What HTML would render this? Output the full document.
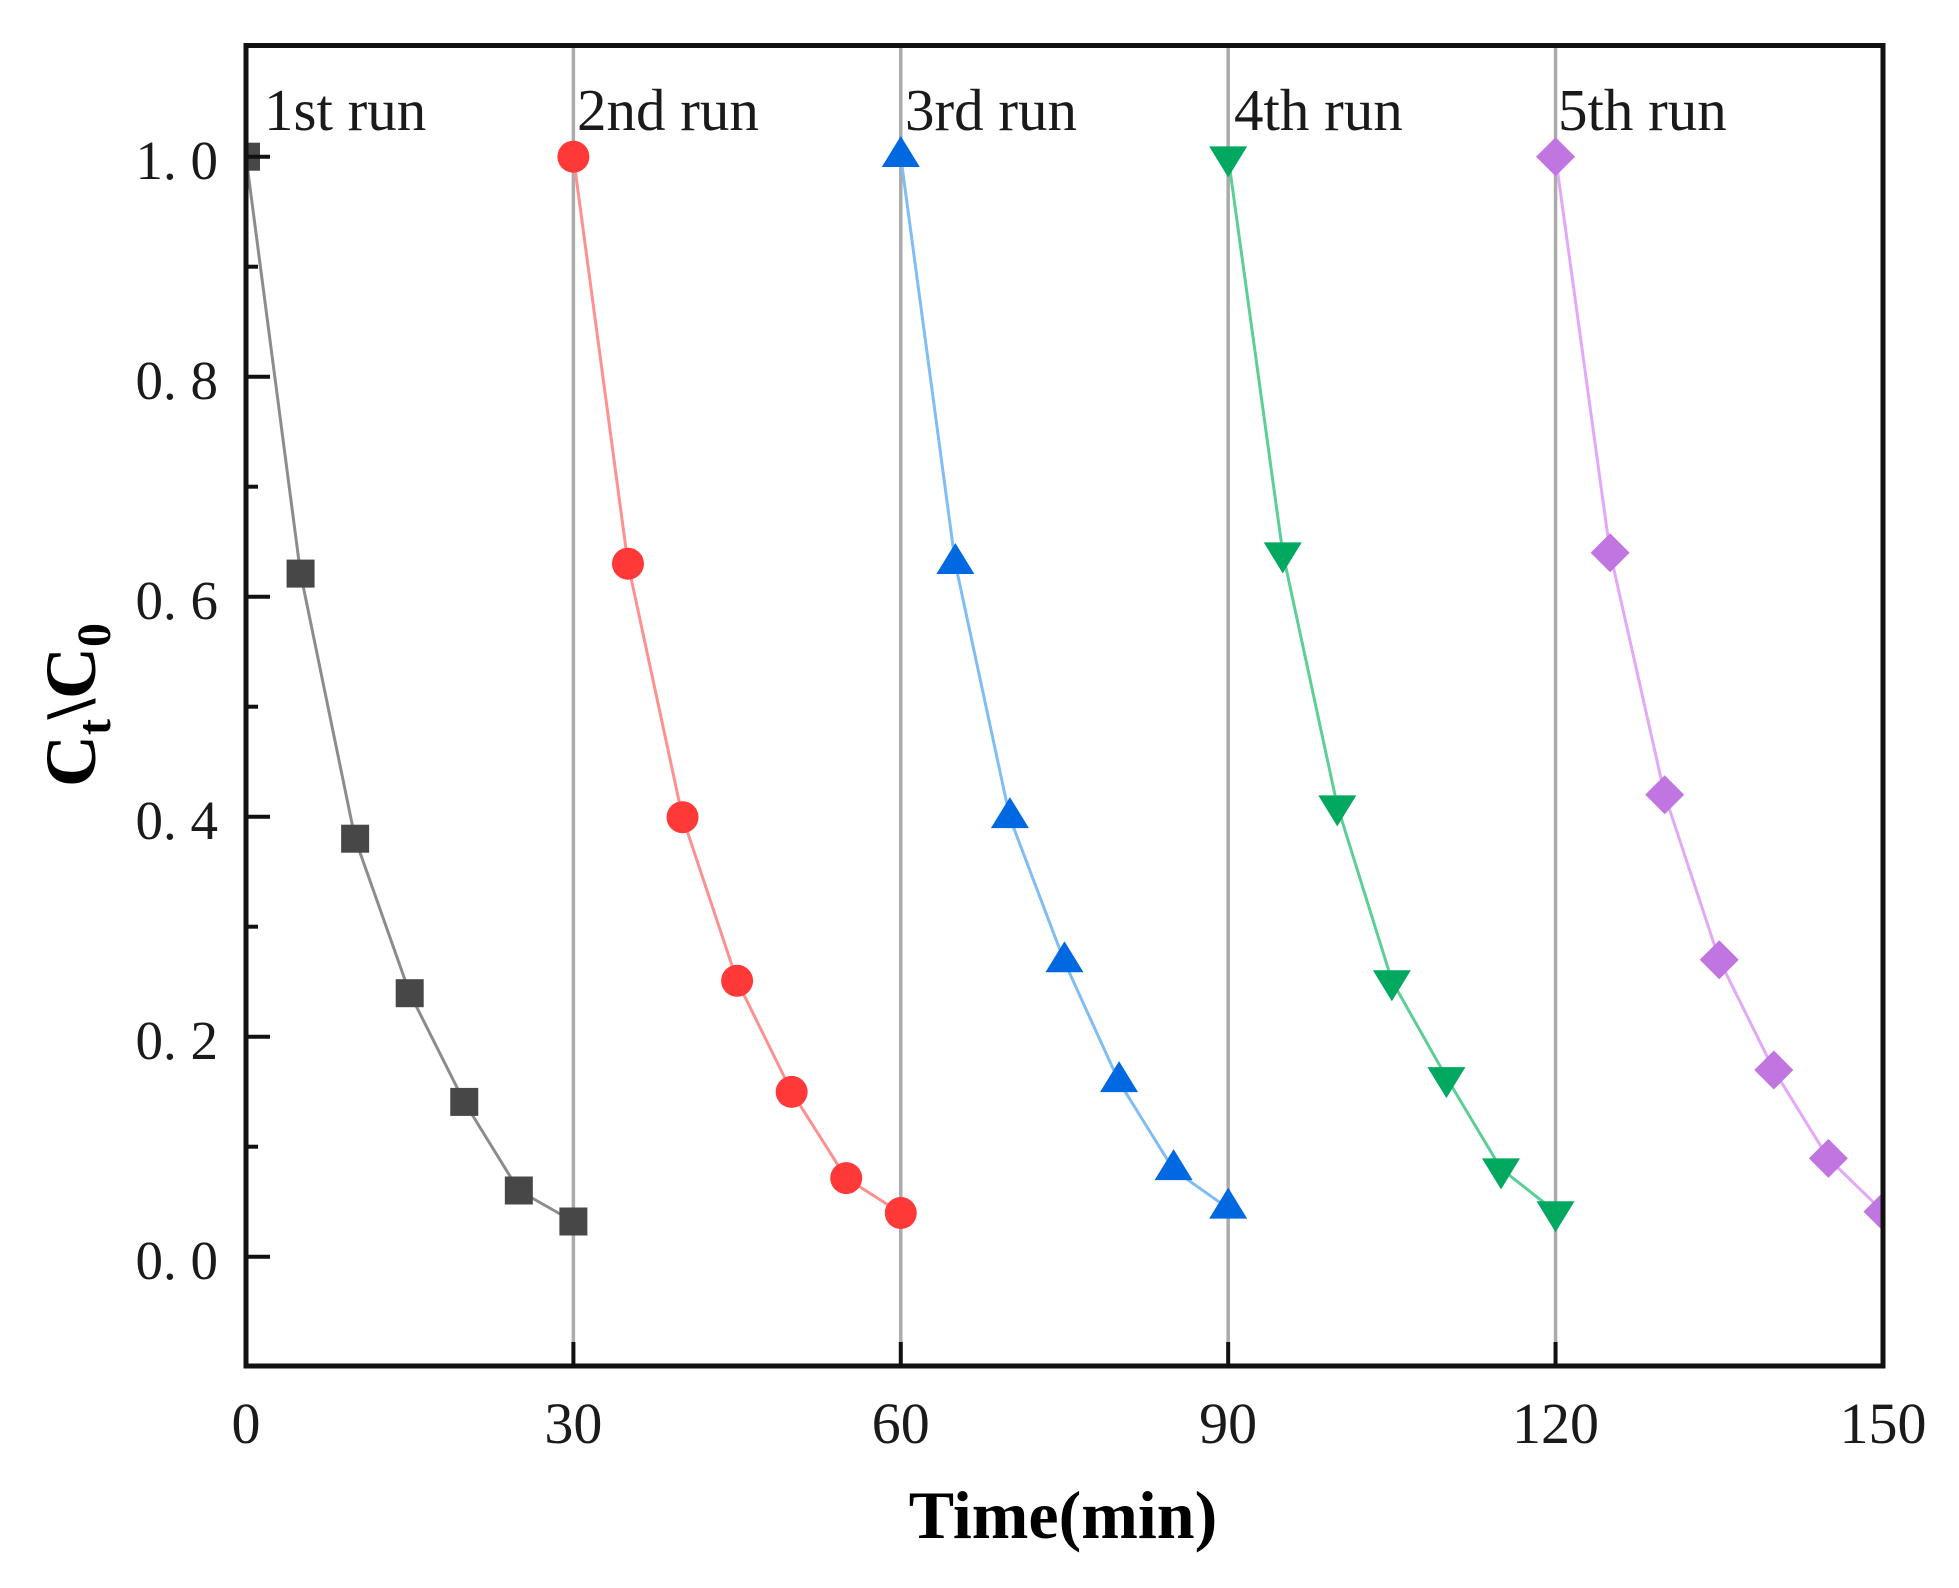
<!DOCTYPE html>
<html>
<head>
<meta charset="utf-8">
<style>
html,body{margin:0;padding:0;background:#fff;}
svg{display:block;}
</style>
</head>
<body>
<svg width="1959" height="1588" viewBox="0 0 1959 1588" xmlns="http://www.w3.org/2000/svg">
<defs>
  <clipPath id="plot"><rect x="246" y="45.5" width="1637" height="1320.5"/></clipPath>
  <rect id="sq" x="-14" y="-14" width="28" height="28" fill="#474747"/>
  <circle id="ci" r="16" fill="#ff3838"/>
  <polygon id="tu" points="0,-20.7 19,10.3 -19,10.3" fill="#0068e0"/>
  <polygon id="td" points="0,20.7 19,-10.3 -19,-10.3" fill="#00a860"/>
  <polygon id="di" points="0,-19.5 19.5,0 0,19.5 -19.5,0" fill="#c175e0"/>
</defs>

<!-- vertical separators -->
<g stroke="#ababab" stroke-width="3.5">
  <line x1="573.39" y1="46" x2="573.39" y2="1364"/>
  <line x1="900.78" y1="46" x2="900.78" y2="1364"/>
  <line x1="1228.17" y1="46" x2="1228.17" y2="1364"/>
  <line x1="1555.56" y1="46" x2="1555.56" y2="1364"/>
</g>

<g clip-path="url(#plot)">
  <!-- series lines -->
  <g fill="none" stroke-width="3" stroke-linejoin="round">
    <polyline stroke="#8c8c8c" points="246,156.7 300.57,573.6 355.13,838.7 409.70,993.2 464.26,1101.9 518.83,1190.5 573.39,1221.5"/>
    <polyline stroke="#ff9090" points="573.39,156.7 627.96,563.7 682.52,817.2 737.09,980.8 791.65,1091.9 846.22,1178.1 900.78,1213.0"/>
    <polyline stroke="#80bdf5" points="900.78,156.7 955.35,563.7 1009.91,817.8 1064.48,961.9 1119.04,1081.8 1173.61,1169.8 1228.17,1208.3"/>
    <polyline stroke="#5ccf96" points="1228.17,156.7 1282.74,552.7 1337.3,805.7 1391.87,980.6 1446.43,1077.4 1501.0,1168.7 1555.56,1211.6"/>
    <polyline stroke="#e4a8f8" points="1555.56,156.7 1610.13,552.7 1664.69,794.7 1719.26,959.7 1773.82,1070.0 1828.39,1158.4 1883,1211.6"/>
  </g>

  <!-- markers -->
  <use href="#sq" x="246" y="156.7"/>
  <use href="#sq" x="300.57" y="573.6"/>
  <use href="#sq" x="355.13" y="838.7"/>
  <use href="#sq" x="409.70" y="993.2"/>
  <use href="#sq" x="464.26" y="1101.9"/>
  <use href="#sq" x="518.83" y="1190.5"/>
  <use href="#sq" x="573.39" y="1221.5"/>

  <use href="#ci" x="573.39" y="156.7"/>
  <use href="#ci" x="627.96" y="563.7"/>
  <use href="#ci" x="682.52" y="817.2"/>
  <use href="#ci" x="737.09" y="980.8"/>
  <use href="#ci" x="791.65" y="1091.9"/>
  <use href="#ci" x="846.22" y="1178.1"/>
  <use href="#ci" x="900.78" y="1213.0"/>

  <use href="#tu" x="900.78" y="156.7"/>
  <use href="#tu" x="955.35" y="563.7"/>
  <use href="#tu" x="1009.91" y="817.8"/>
  <use href="#tu" x="1064.48" y="961.9"/>
  <use href="#tu" x="1119.04" y="1081.8"/>
  <use href="#tu" x="1173.61" y="1169.8"/>
  <use href="#tu" x="1228.17" y="1208.3"/>

  <use href="#td" x="1228.17" y="156.7"/>
  <use href="#td" x="1282.74" y="552.7"/>
  <use href="#td" x="1337.3" y="805.7"/>
  <use href="#td" x="1391.87" y="980.6"/>
  <use href="#td" x="1446.43" y="1077.4"/>
  <use href="#td" x="1501.0" y="1168.7"/>
  <use href="#td" x="1555.56" y="1211.6"/>

  <use href="#di" x="1555.56" y="156.7"/>
  <use href="#di" x="1610.13" y="552.7"/>
  <use href="#di" x="1664.69" y="794.7"/>
  <use href="#di" x="1719.26" y="959.7"/>
  <use href="#di" x="1773.82" y="1070.0"/>
  <use href="#di" x="1828.39" y="1158.4"/>
  <use href="#di" x="1883" y="1211.6"/>
</g>

<!-- y ticks -->
<g stroke="#111" stroke-width="4">
  <line x1="246" y1="156.7" x2="270" y2="156.7"/>
  <line x1="246" y1="376.7" x2="270" y2="376.7"/>
  <line x1="246" y1="596.7" x2="270" y2="596.7"/>
  <line x1="246" y1="816.7" x2="270" y2="816.7"/>
  <line x1="246" y1="1036.7" x2="270" y2="1036.7"/>
  <line x1="246" y1="1256.7" x2="270" y2="1256.7"/>
  <line x1="246" y1="266.7" x2="258" y2="266.7"/>
  <line x1="246" y1="486.7" x2="258" y2="486.7"/>
  <line x1="246" y1="706.7" x2="258" y2="706.7"/>
  <line x1="246" y1="926.7" x2="258" y2="926.7"/>
  <line x1="246" y1="1146.7" x2="258" y2="1146.7"/>
</g>
<!-- x ticks -->
<g stroke="#111" stroke-width="4">
  <line x1="573.39" y1="1342" x2="573.39" y2="1366"/>
  <line x1="900.78" y1="1342" x2="900.78" y2="1366"/>
  <line x1="1228.17" y1="1342" x2="1228.17" y2="1366"/>
  <line x1="1555.56" y1="1342" x2="1555.56" y2="1366"/>
</g>

<!-- frame -->
<rect x="246" y="45.5" width="1637" height="1320.5" fill="none" stroke="#111" stroke-width="5"/>

<!-- run labels -->
<g font-family="'Liberation Serif', serif" font-size="59" fill="#1a1a1a">
  <text x="264" y="130">1st run</text>
  <text x="577" y="130">2nd run</text>
  <text x="905" y="130">3rd run</text>
  <text x="1234" y="130">4th run</text>
  <text x="1558" y="130">5th run</text>
</g>

<!-- y tick labels -->
<g font-family="'Liberation Serif', serif" font-size="55" fill="#1a1a1a" text-anchor="end">
  <text x="218" y="179">1. 0</text>
  <text x="218" y="399">0. 8</text>
  <text x="218" y="619">0. 6</text>
  <text x="218" y="839">0. 4</text>
  <text x="218" y="1059">0. 2</text>
  <text x="218" y="1279">0. 0</text>
</g>

<!-- x tick labels -->
<g font-family="'Liberation Serif', serif" font-size="58" fill="#1a1a1a" text-anchor="middle">
  <text x="246" y="1443">0</text>
  <text x="573.39" y="1443">30</text>
  <text x="900.78" y="1443">60</text>
  <text x="1228.17" y="1443">90</text>
  <text x="1555.56" y="1443">120</text>
  <text x="1883" y="1443">150</text>
</g>

<!-- axis titles -->
<text x="1063" y="1538" font-family="'Liberation Serif', serif" font-size="68" font-weight="bold" fill="#000" text-anchor="middle">Time(min)</text>

<text transform="translate(95,705) rotate(-90)" font-family="'Liberation Serif', serif" font-size="72" font-weight="bold" fill="#000" text-anchor="middle">C<tspan font-size="48" dy="15">t</tspan><tspan dy="-15">\C</tspan><tspan font-size="48" dy="15">0</tspan></text>
</svg>
</body>
</html>
